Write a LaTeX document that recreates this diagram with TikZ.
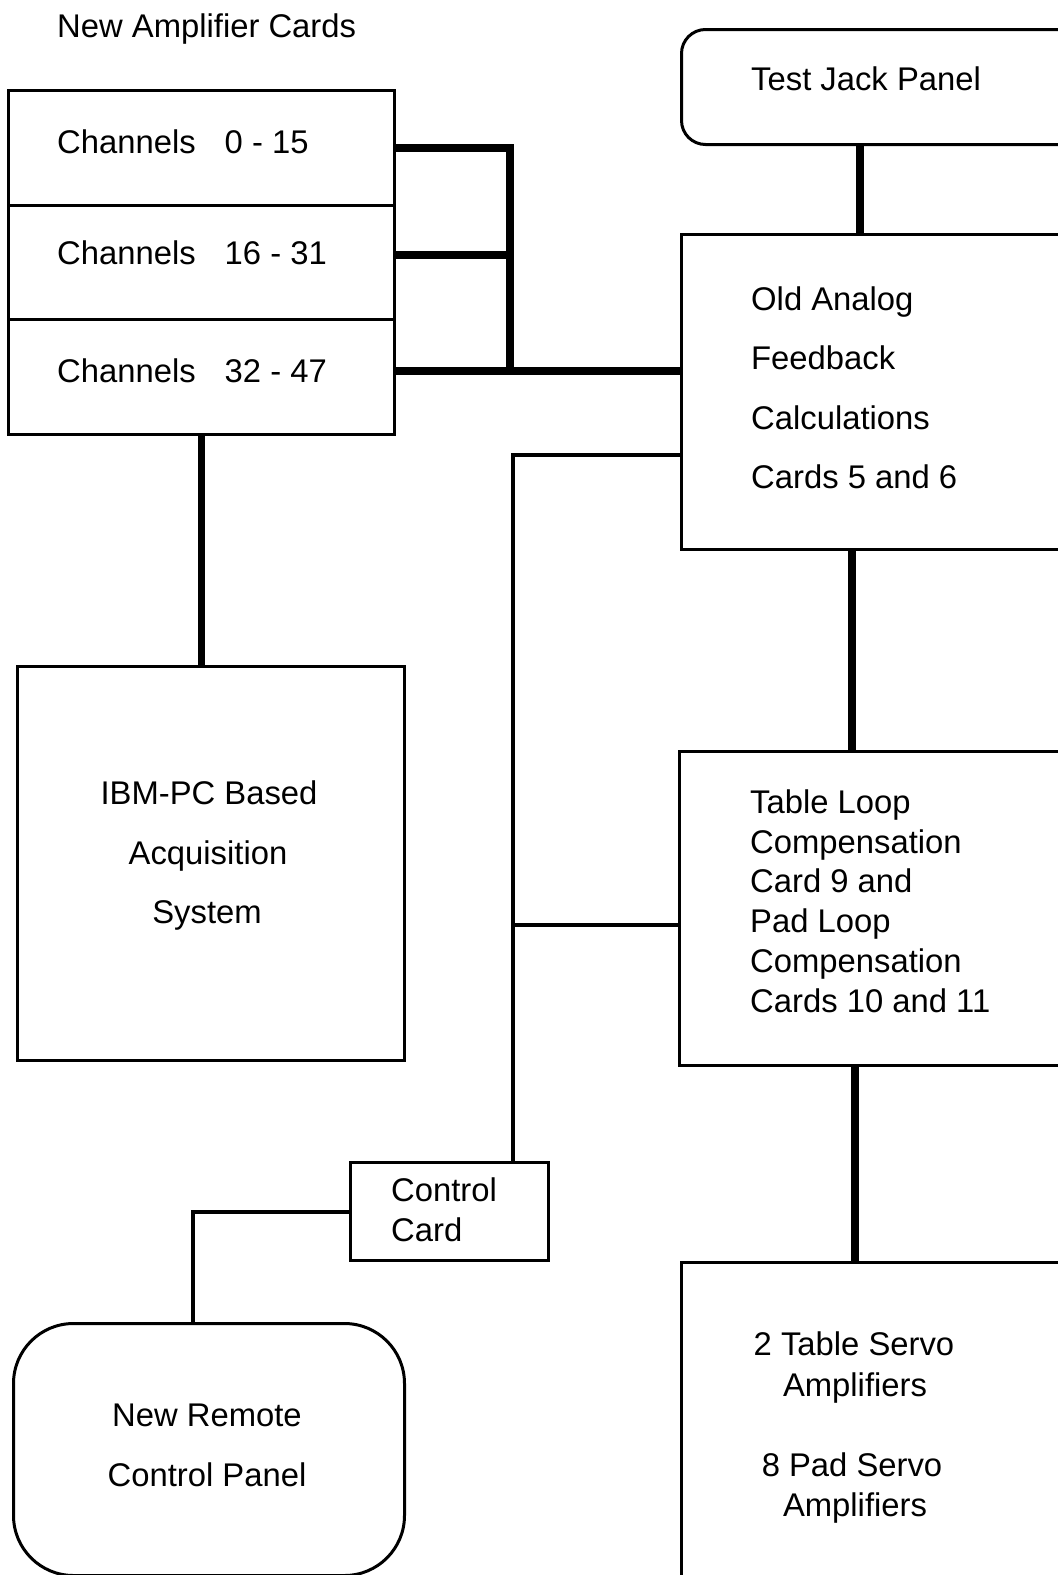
\documentclass[tikz,border=0pt]{standalone}
\usepackage{fontspec}
\setmainfont{Liberation Sans}
\begin{document}
\begin{tikzpicture}[x=1pt,y=-1pt,
  box/.style={draw, line width=3pt, inner sep=0pt, anchor=north west},
  heavy/.style={line width=7.5pt},
  medium/.style={line width=4.5pt},
  lbl/.style={font=\fontsize{32.8}{40}\selectfont, inner sep=0pt, anchor=base west},
  clbl/.style={font=\fontsize{32.8}{40}\selectfont, inner sep=0pt, anchor=base}]
\useasboundingbox (0,0) rectangle (1058,1575);
\clip (0,0) rectangle (1058,1575);

% amplifier card stack
\node[lbl] (title) at (57,37) {New Amplifier Cards};
\node[box, minimum width=386pt, minimum height=115pt] (ch0) at (7,89) {};
\node[box, minimum width=386pt, minimum height=114pt] (ch1) at (7,204) {};
\node[box, minimum width=386pt, minimum height=115pt] (ch2) at (7,318) {};
\node[lbl] (t0) at (57,153) {Channels\hspace{29pt}0 - 15};
\node[lbl] (t1) at (57,264.5) {Channels\hspace{29pt}16 - 31};
\node[lbl] (t2) at (57,382) {Channels\hspace{29pt}32 - 47};

% right column
\node[box, rounded corners=24pt, minimum width=420pt, minimum height=115pt] (tj) at (680,28) {};
\node[lbl] (tjt) at (751,90) {Test Jack Panel};
\node[box, minimum width=420pt, minimum height=315pt] (old) at (680,233) {};
\node[lbl] (o1) at (751,310) {Old Analog};
\node[lbl] (o2) at (751,369.5) {Feedback};
\node[lbl] (o3) at (751,429) {Calculations};
\node[lbl] (o4) at (751,488.5) {Cards 5 and 6};
\node[box, minimum width=420pt, minimum height=314pt] (tl) at (678,750) {};
\node[lbl] (l1) at (750,813) {Table Loop};
\node[lbl] (l2) at (750,853) {Compensation};
\node[lbl] (l3) at (750,892) {Card 9 and};
\node[lbl] (l4) at (750,932) {Pad Loop};
\node[lbl] (l5) at (750,972) {Compensation};
\node[lbl] (l6) at (750,1012) {Cards 10 and 11};
\node[box, minimum width=420pt, minimum height=360pt] (sv) at (680,1261) {};
\node[clbl] (s1) at (854,1355) {2 Table Servo};
\node[clbl] (s2) at (855,1396) {Amplifiers};
\node[clbl] (s3) at (852,1476) {8 Pad Servo};
\node[clbl] (s4) at (855,1516) {Amplifiers};

% left column
\node[box, minimum width=387pt, minimum height=394pt] (ibm) at (16,665) {};
\node[clbl] (i1) at (209,804) {IBM-PC Based};
\node[clbl] (i2) at (208,864) {Acquisition};
\node[clbl] (i3) at (207,923) {System};
\node[box, minimum width=198pt, minimum height=98pt] (ctrl) at (349,1161) {};
\node[lbl] (c1) at (391,1201) {Control};
\node[lbl] (c2) at (391,1241) {Card};
\node[box, rounded corners=60pt, minimum width=391pt, minimum height=252pt] (rc) at (12,1322) {};
\node[clbl] (r1) at (207,1426) {New Remote};
\node[clbl] (r2) at (207,1486) {Control Panel};

% junction points of the wiring
\coordinate (b0) at (510,148);
\coordinate (b1) at (510,255);
\coordinate (b2) at (510,371);
\coordinate (xj) at (860,0);
\coordinate (xo) at (852,0);
\coordinate (xt) at (855,0);
\coordinate (j1) at (513,455);
\coordinate (j2) at (513,925);
\coordinate (j3) at (193,1212);

% heavy signal buses
\draw[heavy] (b0 -| ch0.east) -- (b0) -- (b2);
\draw[heavy] (b1 -| ch1.east) -- (b1);
\draw[heavy] (b2 -| ch2.east) -- (b2 -| old.west);
\draw[heavy] (ch2.south) -- (ibm.north -| ch2.south);
\draw[heavy] (tj.south -| xj) -- (old.north -| xj);
\draw[heavy] (old.south -| xo) -- (tl.north -| xo);
\draw[heavy] (tl.south -| xt) -- (sv.north -| xt);

% control wiring
\draw[medium] (j1 -| old.west) -- (j1) -- (ctrl.north -| j1);
\draw[medium] (j2) -- (j2 -| tl.west);
\draw[medium] (j3 -| ctrl.west) -- (j3) -- (rc.north -| j3);
\end{tikzpicture}
\end{document}
